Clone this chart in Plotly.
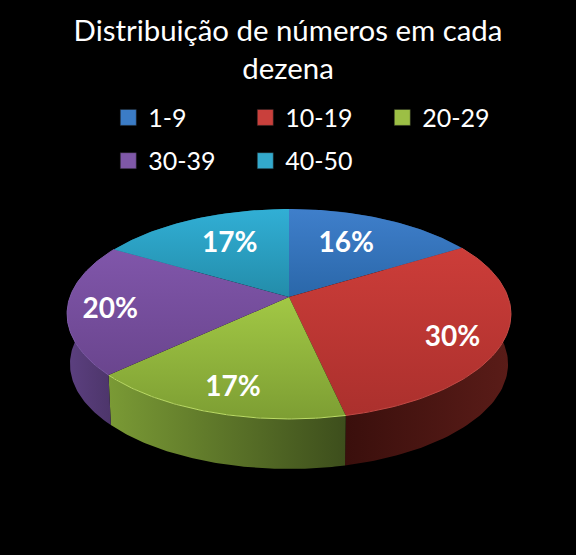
import numpy as np
import plotly.graph_objects as go

# datos
categories = ["1-9", "10-19", "20-29", "30-39", "40-50"]
values = [16.3, 30.2, 16.6, 20.3, 16.6]
percent_labels = ["16%", "30%", "17%", "20%", "17%"]

# colores: (abajo, arriba) de la tapa, (izq, der) del lateral
top_colors = [("#2a67a9", "#3f7fcb"), ("#ab302d", "#cc3d39"), ("#7d9e33", "#a2c845"),
              ("#6a458e", "#8056aa"), ("#238ca9", "#31afd5")]
side_colors = [("#1f4470", "#1f4470"), ("#3a0f0c", "#5a1c18"), ("#7a9a35", "#3d4e1c"),
               ("#5c4080", "#4b3468"), ("#1a6b82", "#1a6b82")]
rim_colors = ["#5a95dc", "#c44a45", "#bcdc66", "#7c5aa6", "#55c4e4"]
legend_colors = ["#3b7cc6", "#c9403c", "#9cbf45", "#7f58a8", "#33a9cc"]
label_radius = [0.62, 0.80, 0.82, 0.81, 0.63]
label_shift = [-2, 6, -1.5, -3, 2]  # grados

# geometria de la perspectiva, en pixeles
CX, CY = 289, 297
A, B, K = 102.2, 219, 0.162
DEPTH = 50


def project(theta, r=1.0):
    # theta en radianes desde arriba, en sentido horario
    xx = r * np.sin(theta)
    yy = r * np.cos(theta)
    w = 1 + K * yy
    return CX + B * xx / w, CY - A * yy / w


fractions = np.cumsum([0] + values) / sum(values)
angles = fractions * 2 * np.pi

fig = go.Figure()

# laterales primero, las tapas los tapan por detras
for i in range(len(values)):
    t = np.linspace(angles[i], angles[i + 1], 80)
    x, y = project(t)
    xb = CX + (x - CX) * 0.987
    yb = y + DEPTH
    fig.add_trace(go.Scatter(
        x=np.concatenate([x, xb[::-1]]), y=np.concatenate([y, yb[::-1]]),
        mode="lines", line=dict(width=0), fill="toself",
        fillgradient=dict(type="horizontal",
                          colorscale=[[0, side_colors[i][0]], [1, side_colors[i][1]]]),
        showlegend=False, hoverinfo="skip"))

for i in range(len(values)):
    t = np.linspace(angles[i], angles[i + 1], 80)
    x, y = project(t)
    fig.add_trace(go.Scatter(
        x=np.concatenate([[CX], x, [CX]]), y=np.concatenate([[CY], y, [CY]]),
        mode="lines", line=dict(width=0), fill="toself",
        fillgradient=dict(type="vertical",
                          colorscale=[[0, top_colors[i][0]], [1, top_colors[i][1]]]),
        showlegend=False, hoverinfo="skip"))
    # brillo del borde
    if i in (1, 2, 3):
        fig.add_trace(go.Scatter(x=x, y=y, mode="lines",
                                 line=dict(color=rim_colors[i], width=1),
                                 showlegend=False, hoverinfo="skip"))

# etiquetas de porcentaje
mid = (angles[:-1] + angles[1:]) / 2 + np.radians(label_shift)
lx, ly = project(mid, np.array(label_radius))
fig.add_trace(go.Scatter(x=lx, y=ly, mode="text", text=percent_labels,
                         textposition="middle center",
                         textfont=dict(family="Lato", size=28, color="white", weight="bold"),
                         showlegend=False, hoverinfo="skip"))

# leyenda, dos filas
for i, name in enumerate(categories):
    fig.add_trace(go.Scatter(
        x=[None], y=[None], mode="markers", name=name,
        marker=dict(symbol="square", size=16, color=legend_colors[i],
                    line=dict(color="#222222", width=0.5)),
        legend="legend" if i < 3 else "legend2"))

legend_style = dict(orientation="h", xanchor="left", yanchor="middle", xref="paper", yref="paper",
                    bgcolor="rgba(0,0,0,0)", entrywidth=92, entrywidthmode="pixels",
                    font=dict(family="Lato", size=25, color="white"))

fig.update_layout(
    width=576, height=555, margin=dict(l=0, r=0, t=0, b=0),
    paper_bgcolor="black", plot_bgcolor="black",
    title=dict(text="Distribuição de números em cada<br>dezena", x=0.5, xanchor="center",
               y=0.926, yanchor="middle",
               font=dict(family="Lato", size=29.4, color="white")),
    xaxis=dict(range=[0, 576], visible=False, fixedrange=True),
    yaxis=dict(range=[555, 0], visible=False, fixedrange=True),
    legend=dict(x=0.188, y=0.788, **legend_style),
    legend2=dict(x=0.188, y=0.71, **legend_style),
)

fig.write_html("out.html", config=dict(displayModeBar=False),
               post_script="document.body.style.margin='0';document.body.style.background='black';")
